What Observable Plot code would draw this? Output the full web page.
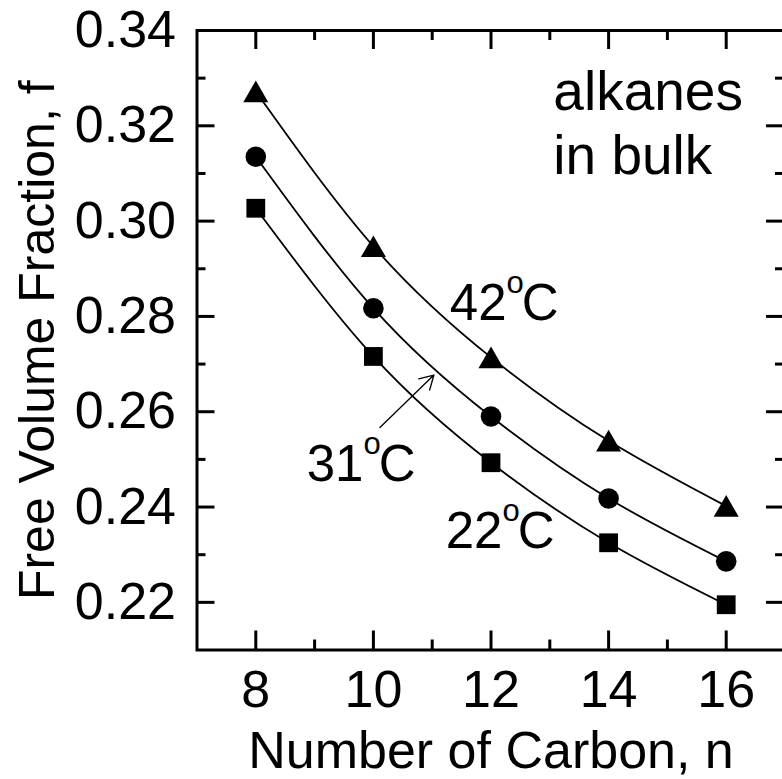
<!DOCTYPE html>
<html><head><meta charset="utf-8">
<script src="https://cdn.jsdelivr.net/npm/d3@7"></script>
<script src="https://cdn.jsdelivr.net/npm/@observablehq/plot@0.6"></script>
<style>html,body{margin:0;padding:0;overflow:hidden;background:#fff}</style>
</head><body><div id="chart"></div>
<script>
// Data
const carbons = [8, 10, 12, 14, 16];
const f22 = [0.3027, 0.2716, 0.2493, 0.2325, 0.2195];
const f31 = [0.3135, 0.2817, 0.2590, 0.2418, 0.2286];
const f42 = [0.3272, 0.2947, 0.2714, 0.2539, 0.2402];
const seriesNames = ["22°C", "31°C", "42°C"];

const xMajor = [8, 10, 12, 14, 16];
const xMinor = [9, 11, 13, 15];
const yLabels = [0.22, 0.24, 0.26, 0.28, 0.30, 0.32, 0.34];
const yMajor = [0.22, 0.24, 0.26, 0.28, 0.30, 0.32];
const yMinor = [0.23, 0.25, 0.27, 0.29, 0.31, 0.33];

// annotations (data coordinates)
const tempLabels = [
  {n: 11.30, f: 0.2793, text: "42°C"},
  {n: 8.865, f: 0.2455, text: "31°C"},
  {n: 11.23, f: 0.2315, text: "22°C"}
];
const noteLines = [
  {n: 13.06, f: 0.3234, text: "alkanes"},
  {n: 13.06, f: 0.3099, text: "in bulk"}
];
const arrowData = [{n1: 10.111, f1: 0.2567, n2: 11.029, f2: 0.2677}];

const seriesValues = [f22, f31, f42];
const rows = [];
seriesValues.forEach((vals, i) => carbons.forEach((n, j) => rows.push({n, f: vals[j], t: seriesNames[i]})));
const rowsOf = name => rows.filter(r => r.t === name);

const W = 782, H = 779;
const mL = 196.5, mR = -2.5, mT = 30, mB = 129.5;
const plotW = W - mL - mR, plotH = H - mT - mB;

const svg = Plot.plot({
  width: W, height: H,
  marginLeft: mL, marginRight: mR, marginTop: mT, marginBottom: mB,
  style: {fontFamily: "'Liberation Sans', Arial, sans-serif", fontSize: "50px", color: "#000", background: "#fff", overflow: "visible"},
  x: {domain: [7, 17]},
  y: {domain: [0.21, 0.34]},
  marks: [
    // ticks (inward)
    Plot.ruleX(xMajor, {x: d => d, insetTop: plotH - 19, strokeWidth: 3}),
    Plot.ruleX(xMinor, {x: d => d, insetTop: plotH - 10, strokeWidth: 3}),
    Plot.ruleX(xMajor, {x: d => d, insetBottom: plotH - 19, strokeWidth: 3}),
    Plot.ruleX(xMinor, {x: d => d, insetBottom: plotH - 10, strokeWidth: 3}),
    Plot.ruleY(yMajor, {y: d => d, insetRight: plotW - 18, strokeWidth: 3}),
    Plot.ruleY(yMinor, {y: d => d, insetRight: plotW - 9, strokeWidth: 3}),
    Plot.ruleY(yMajor, {y: d => d, insetLeft: plotW - 18.5, strokeWidth: 3}),
    Plot.ruleY(yMinor, {y: d => d, insetLeft: plotW - 9.5, strokeWidth: 3}),
    Plot.frame({strokeWidth: 3}),
    Plot.axisX(xMajor, {anchor: "bottom", tickSize: 0, tickPadding: 20, label: null, fontSize: 52}),
    Plot.axisY(yLabels, {anchor: "left", tickSize: 0, tickPadding: 21, label: null, fontSize: 52, tickFormat: d3.format(".2f")}),
    Plot.text(["Number of Carbon, n"], {frameAnchor: "bottom", dy: 118, lineAnchor: "bottom", textAnchor: "middle", fontSize: 52}),
    Plot.text(["Free Volume Fraction, f"], {frameAnchor: "left", dx: -143, rotate: -90, lineAnchor: "bottom", textAnchor: "middle", fontSize: 50}),
    // curves
    Plot.line(rows, {x: "n", y: "f", z: "t", curve: "natural", stroke: "#000", strokeWidth: 1.8}),
    Plot.dot(rowsOf("22°C"), {x: "n", y: "f", symbol: "square", r: 10.6, fill: "#000", stroke: null}),
    Plot.dot(rowsOf("31°C"), {x: "n", y: "f", symbol: "circle", r: 10.3, fill: "#000", stroke: null}),
    Plot.dot(rowsOf("42°C"), {x: "n", y: "f", symbol: "triangle", r: 9.3, dy: 3.5, fill: "#000", stroke: null}),
    Plot.arrow(arrowData, {x1: "n1", y1: "f1", x2: "n2", y2: "f2", headLength: 18, strokeWidth: 1.3, stroke: "#000"}),
    Plot.text(tempLabels, {x: "n", y: "f", text: "text", textAnchor: "start", lineAnchor: "bottom", fontSize: 51}),
    Plot.text(noteLines, {x: "n", y: "f", text: "text", textAnchor: "start", lineAnchor: "bottom", fontSize: 55})
  ]
});

d3.select(svg).selectAll("text").filter(function () { return /°C$/.test(this.textContent); }).each(function () {
  const num = this.textContent.replace("°C", "");
  const sel = d3.select(this);
  sel.text(null);
  sel.append("tspan").text(num);
  sel.append("tspan").attr("font-size", 31).attr("dy", -27).text("o");
  sel.append("tspan").attr("dy", 27).attr("dx", -2).text("C");
});

document.getElementById("chart").appendChild(svg);
</script>
</body></html>
